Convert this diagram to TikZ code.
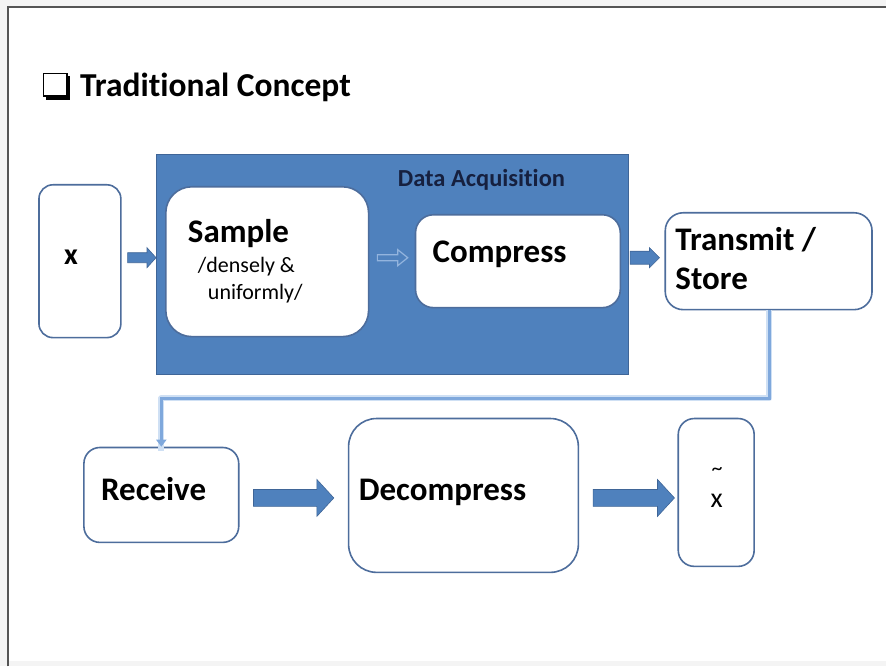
\documentclass[tikz,border=0pt]{standalone}
\usepackage{fontspec}
\setmainfont{Carlito}[Ligatures=NoCommon]
\usetikzlibrary{calc,arrows.meta}

\definecolor{dablue}{HTML}{4F81BD}
\definecolor{daedge}{HTML}{3F6597}
\definecolor{boxedge}{HTML}{4D6D9C}
\definecolor{linkblue}{HTML}{7FA8DC}
\definecolor{linkglow}{HTML}{CFE0F4}
\definecolor{hollowedge}{HTML}{93B4DE}
\definecolor{navy}{HTML}{16203F}
\definecolor{framegray}{HTML}{555555}
\definecolor{paper}{HTML}{F4F4F4}

% block arrow from #2 to #3: #4 half shaft, #5 half head, #6 head length
\newcommand\fatarrow[6]{%
  \path[#1] let \p1=(#2), \p2=(#3) in
    (\x1,{\y1+#4}) -- ({\x2-#6},{\y1+#4}) -- ({\x2-#6},{\y1+#5}) --
    (\x2,\y1) -- ({\x2-#6},{\y1-#5}) -- ({\x2-#6},{\y1-#4}) --
    (\x1,{\y1-#4}) -- cycle;}

\begin{document}
\begin{tikzpicture}[x=1pt,y=-1pt,
  box/.style={draw=boxedge, line width=1.6pt, fill=white, inner sep=0pt},
  lbl/.style={anchor=base west, inner sep=0pt, text=black},
  big/.style={font=\fontsize{33}{36}\selectfont\bfseries},
  small/.style={font=\fontsize{22}{24}\selectfont},
  solidarrow/.style={fill=dablue, draw=daedge, line width=0.6pt},
  hollowarrow/.style={fill=dablue, draw=hollowedge, line width=1.2pt},
]
% page and frame
\fill[paper] (0,0) rectangle (887,667);
\fill[white] (8.5,7.5) rectangle (887,662);
\draw[framegray, line width=2pt] (8.5,667) -- (8.5,7.5) -- (887,7.5);
\useasboundingbox (0,0) rectangle (887,667);

% heading with shadowed check box
\fill[black] (66,76) rectangle (70.5,100.5);
\fill[black] (46,95.5) rectangle (70.5,100.5);
\draw[black, line width=1.8pt, fill=white] (43.5,73.5) rectangle (67,96.5);
\node[lbl, font=\fontsize{33.5}{36}\selectfont\bfseries] (title) at (80,97) {Traditional Concept};

% acquisition block
\node[fill=dablue, draw=daedge, line width=1.2pt, minimum width=472pt, minimum height=220pt, inner sep=0pt] (daq) at (393,265) {};
\node[anchor=base, inner sep=0pt, text=navy, font=\fontsize{24.5}{26}\selectfont\bfseries] (daqlabel) at (482,187) {Data Acquisition};

% process boxes
\node[box, rounded corners=14pt, minimum width=82pt, minimum height=153pt] (xbox) at (80,261.5) {};
\node[box, rounded corners=26pt, minimum width=203pt, minimum height=150pt] (sample) at (267.5,262) {};
\node[box, rounded corners=18pt, minimum width=205pt, minimum height=93pt] (compress) at (518.5,261.5) {};
\node[box, rounded corners=18pt, minimum width=207pt, minimum height=97pt] (transmit) at (769.5,261.5) {};
\node[box, rounded corners=16pt, minimum width=155pt, minimum height=95pt] (receive) at (161.5,495.5) {};
\node[box, rounded corners=28pt, minimum width=230pt, minimum height=154pt] (decomp) at (464,496) {};
\node[box, rounded corners=16pt, minimum width=76pt, minimum height=148pt] (xt) at (717,493) {};

% box texts
\node[lbl, font=\fontsize{30}{32}\selectfont\bfseries] (xlabel) at (64,265) {x};
\node[lbl, big] (samplelabel) at (188,243) {Sample};
\node[lbl, small] (dense) at (198,273) {/densely \&};
\node[lbl, small] (unif) at (208,300) {uniformly/};
\node[lbl, big] (compresslabel) at (433,263) {Compress};
\node[lbl, big] (transmitlabel) at (676,251) {Transmit /};
\node[lbl, big] (storelabel) at (676,290) {Store};
\node[lbl, big] (receivelabel) at (101,501) {Receive};
\node[lbl, big] (decomplabel) at (359,501) {Decompress};
\node[anchor=center, inner sep=0pt, font=\fontsize{22}{24}\selectfont] (tilde) at (718,472) {\textasciitilde};
\node[anchor=base, inner sep=0pt, font=\fontsize{28}{30}\selectfont] (xtlabel) at (717.5,508) {x};

% arrow end points
\coordinate (a1s) at ([xshift=6pt,yshift=3.5pt]xbox.east);
\coordinate (a1e) at ([xshift=-9pt,yshift=4pt]sample.west);
\coordinate (a2s) at ([xshift=8pt,yshift=4pt]sample.east);
\coordinate (a2e) at ([xshift=-7pt,yshift=3.5pt]compress.west);
\coordinate (a3s) at ([xshift=9pt,yshift=3.5pt]compress.east);
\coordinate (a3e) at ([xshift=-5pt,yshift=3.5pt]transmit.west);
\coordinate (a4s) at ([xshift=14pt,yshift=-3pt]receive.east);
\coordinate (a4e) at ([xshift=-14pt,yshift=-2.5pt]decomp.west);
\coordinate (a5s) at ([xshift=14pt,yshift=-2.5pt]decomp.east);
\coordinate (a5e) at ([xshift=-3pt,yshift=-5.5pt]xt.west);

\fatarrow{solidarrow}{a1s}{a1e}{5pt}{10pt}{9pt}
\fatarrow{hollowarrow}{a2s}{a2e}{3pt}{8pt}{10pt}
\fatarrow{solidarrow}{a3s}{a3e}{6.5pt}{10pt}{10pt}
\fatarrow{solidarrow}{a4s}{a4e}{8.5pt}{18.5pt}{17pt}
\fatarrow{solidarrow}{a5s}{a5e}{8.5pt}{18.5pt}{17pt}

% link from storage to receiver
\draw[linkglow, line width=6pt, line join=round]
  ([xshift=0.5pt]transmit.south) -- ++(0,88) -| ([yshift=-4pt]receive.north);
\draw[linkblue, line width=2.8pt, -{Triangle[length=7pt,width=10pt]}]
  ([xshift=0.5pt]transmit.south) -- ++(0,88) -| (receive.north);
\end{tikzpicture}
\end{document}
